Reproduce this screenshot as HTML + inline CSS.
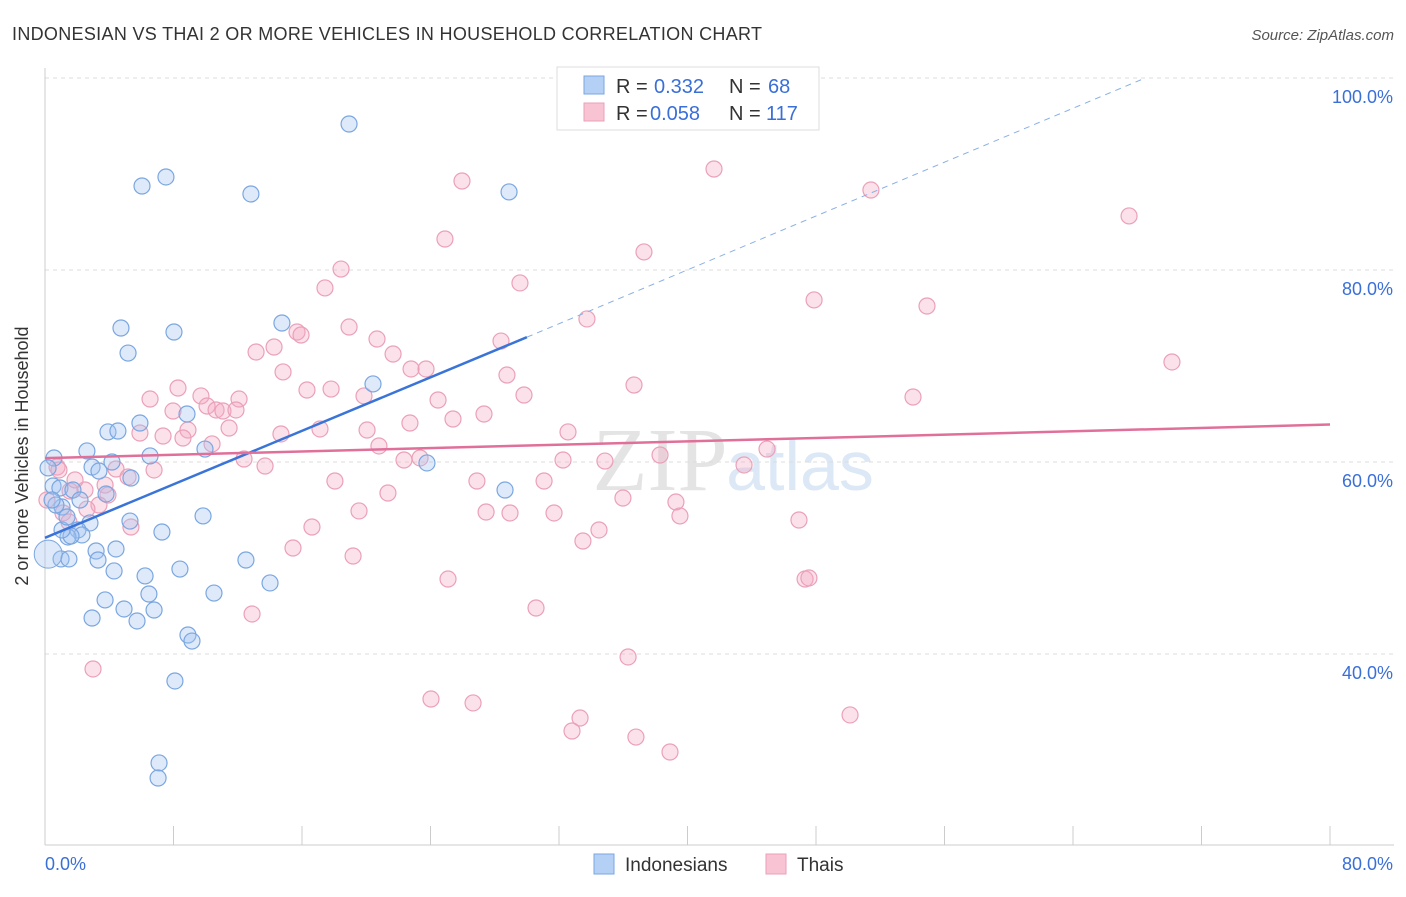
<!DOCTYPE html>
<html><head><meta charset="utf-8"><style>
body{margin:0;background:#fff;font-family:"Liberation Sans",sans-serif;}
</style></head><body>
<svg width="1406" height="892" xmlns="http://www.w3.org/2000/svg" font-family="Liberation Sans, sans-serif">
<text x="12" y="40" font-size="18" fill="#333" textLength="750">INDONESIAN VS THAI 2 OR MORE VEHICLES IN HOUSEHOLD CORRELATION CHART</text>
<text x="1394" y="40" font-size="15" fill="#555" text-anchor="end" font-style="italic">Source: ZipAtlas.com</text>
<text x="660" y="490" font-size="90" fill="#e4e4e4" font-family="Liberation Serif, serif" text-anchor="middle">ZIP</text>
<text x="800" y="490" font-size="70" fill="#dce8f6" text-anchor="middle">atlas</text>
<g id="grid"></g>
<g id="axes"></g>
<g id="marks"></g>
<text x="28" y="456" font-size="18" fill="#333" text-anchor="middle" transform="rotate(-90 28 456)">2 or more Vehicles in Household</text>
<g>
<rect x="557" y="67" width="262" height="63" fill="#fff" stroke="#ddd"/>
<rect x="584" y="76" width="20" height="18" fill="#b4d0f4" stroke="#7aa6e0"/>
<rect x="584" y="103" width="20" height="18" fill="#f8c4d4" stroke="#eba0b8"/>
<text x="616" y="93" font-size="20" fill="#333">R =</text>
<text x="654" y="93" font-size="20" fill="#3a6fd8">0.332</text>
<text x="729" y="93" font-size="20" fill="#333">N =</text>
<text x="768" y="93" font-size="20" fill="#3a6fd8">68</text>
<text x="616" y="120" font-size="20" fill="#333">R =</text>
<text x="650" y="120" font-size="20" fill="#3a6fd8">0.058</text>
<text x="729" y="120" font-size="20" fill="#333">N =</text>
<text x="766" y="120" font-size="20" fill="#3a6fd8">117</text>
</g>
<g>
<rect x="594" y="854" width="20" height="20" fill="#b4d0f4" stroke="#7aa6e0"/>
<text x="625" y="871" font-size="19" fill="#333">Indonesians</text>
<rect x="766" y="854" width="20" height="20" fill="#f8c4d4" stroke="#eba0b8"/>
<text x="797" y="871" font-size="19" fill="#333">Thais</text>
</g>
</svg>
<script>
const xTicks=[0,8,16,24,32,40,48,56,64,72,80];
const yTicks=[40,60,80,100];
const yTickLabels=["40.0%","60.0%","80.0%","100.0%"];
const bluePx=[[349,124],[166,177],[142,186],[251,194],[509,192],[121,328],[174,332],[128,353],[282,323],[373,384],[87,451],[140,423],[108,432],[118,431],[187,414],[205,449],[150,456],[54,458],[92,467],[99,471],[112,462],[131,478],[53,486],[60,488],[73,490],[106,494],[62,507],[56,505],[80,500],[90,523],[78,530],[82,535],[68,537],[71,536],[130,521],[162,532],[203,516],[96,551],[116,549],[98,560],[61,559],[69,559],[114,571],[145,576],[180,569],[246,560],[105,600],[124,609],[149,594],[154,610],[214,593],[270,583],[92,618],[137,621],[188,635],[192,641],[175,681],[159,763],[158,778],[427,463],[505,490],[62,530],[67,517],[48,468],[52,500]];
const pinkPx=[[714,169],[462,181],[871,190],[1129,216],[445,239],[644,252],[341,269],[520,283],[325,288],[814,300],[927,306],[587,319],[349,327],[297,332],[301,335],[377,339],[501,341],[256,352],[274,347],[393,354],[1172,362],[411,369],[426,369],[283,372],[507,375],[178,388],[150,399],[201,396],[239,399],[307,390],[331,389],[364,396],[438,400],[634,385],[524,395],[913,397],[173,411],[207,406],[216,410],[223,411],[236,410],[484,414],[229,428],[410,423],[188,430],[320,429],[140,433],[163,436],[183,438],[367,430],[568,432],[453,419],[212,444],[281,434],[379,446],[404,460],[244,459],[265,466],[420,458],[563,460],[605,461],[660,455],[767,449],[744,465],[57,467],[116,469],[128,477],[154,470],[105,485],[85,490],[108,495],[70,491],[335,481],[477,481],[544,481],[388,493],[623,498],[676,502],[47,500],[99,505],[87,509],[63,513],[359,511],[486,512],[510,513],[554,513],[680,516],[799,520],[312,527],[131,527],[69,522],[599,530],[583,541],[293,548],[353,556],[448,579],[805,579],[809,578],[536,608],[252,614],[93,669],[628,657],[431,699],[473,703],[580,718],[572,731],[636,737],[670,752],[850,715],[59,470],[75,480]];
const toVX=p=>(p-45)/1285*80, toVY=p=>100-(p-78)/9.6;
const blueX=bluePx.map(p=>+toVX(p[0]).toFixed(2)), blueY=bluePx.map(p=>+toVY(p[1]).toFixed(2));
const pinkX=pinkPx.map(p=>+toVX(p[0]).toFixed(2)), pinkY=pinkPx.map(p=>+toVY(p[1]).toFixed(2));
const blueTrend=[[0,52.1],[30,73.0]], blueDash=[[30,73.0],[68.5,100]];
const pinkTrend=[[0,60.4],[80,63.9]];
const X=v=>45+v/80*1285, Y=v=>78+(100-v)*9.6;
const NS="http://www.w3.org/2000/svg";
function mk(t,a,parent){const e=document.createElementNS(NS,t);for(const k in a)e.setAttribute(k,a[k]);document.getElementById(parent).appendChild(e);return e;}
yTicks.forEach((t,i)=>{
 const g=mk('line',{x1:45,x2:1394,y1:Y(t),y2:Y(t),stroke:'#ddd','stroke-dasharray':'4,4'},'grid');
 
 
 const l=mk('text',{x:1393,y:Y(t)+25,'font-size':18,fill:'#3a6fd8','text-anchor':'end'},'axes');l.textContent=yTickLabels[i];
 
 
});
const ax=mk('line',{x1:45,x2:45,y1:68,y2:845,stroke:'#ccc'},'axes');


const bx=mk('line',{x1:45,x2:1394,y1:845,y2:845,stroke:'#ccc'},'axes');


xTicks.forEach(t=>{const e=mk('line',{x1:X(t),x2:X(t),y1:826,y2:845,stroke:'#ccc'},'axes');
 
 });
const l0=mk('text',{x:45,y:870,'font-size':18,fill:'#3a6fd8'},'axes');l0.textContent='0.0%';


const l1=mk('text',{x:1393,y:870,'font-size':18,fill:'#3a6fd8','text-anchor':'end'},'axes');l1.textContent='80.0%';


pinkX.forEach((x,i)=>{const c=mk('circle',{cx:X(x),cy:Y(pinkY[i]),r:8,fill:'rgba(244,170,196,0.35)',stroke:'#eba0b8','stroke-width':1.2},'marks');
 
 });
blueX.forEach((x,i)=>{const c=mk('circle',{cx:X(x),cy:Y(blueY[i]),r:8,fill:'rgba(160,196,240,0.35)',stroke:'#7aa6e0','stroke-width':1.2},'marks');
 
 });
const big=mk('circle',{cx:X(0.2),cy:Y(50.4),r:14,fill:'rgba(160,196,240,0.35)',stroke:'#7aa6e0'},'marks');


const tl=(d,col,w,dash,name)=>{const e=mk('line',{x1:X(d[0][0]),y1:Y(d[0][1]),x2:X(d[1][0]),y2:Y(d[1][1]),stroke:col,'stroke-width':w},'marks');if(dash)e.setAttribute('stroke-dasharray',dash);
 
 };
tl(blueTrend,'#3a74d8',2.5,null,'indonesian-trendline');
tl(blueDash,'#8ab0e4',1,'6,5','indonesian-trendline-extension');
tl(pinkTrend,'#e0709a',2.5,null,'thai-trendline');
</script>
</body></html>
